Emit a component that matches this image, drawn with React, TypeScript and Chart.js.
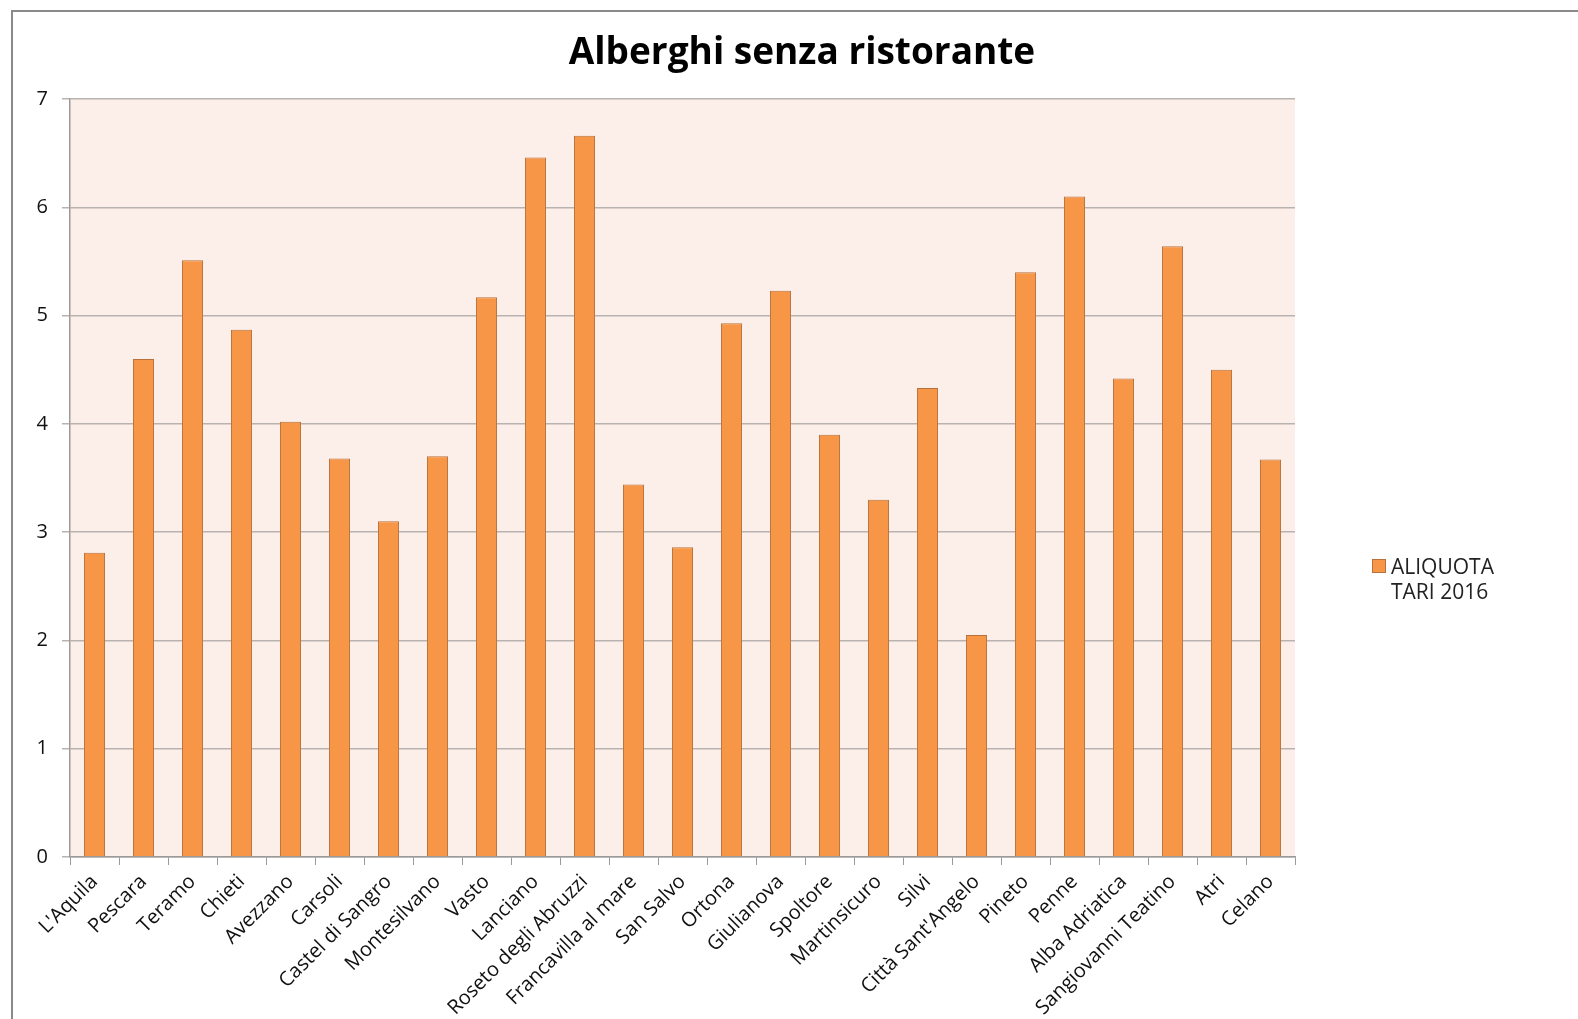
import React, { useEffect, useRef } from "react";
import { Chart, registerables } from "chart.js";

Chart.register(...registerables);

const TITLE = "Alberghi senza ristorante";
const SERIES_NAME = ["ALIQUOTA", "TARI 2016"];
const CATEGORIES = [
  "L'Aquila",
  "Pescara",
  "Teramo",
  "Chieti",
  "Avezzano",
  "Carsoli",
  "Castel di Sangro",
  "Montesilvano",
  "Vasto",
  "Lanciano",
  "Roseto degli Abruzzi",
  "Francavilla al mare",
  "San Salvo",
  "Ortona",
  "Giulianova",
  "Spoltore",
  "Martinsicuro",
  "Silvi",
  "Città Sant'Angelo",
  "Pineto",
  "Penne",
  "Alba Adriatica",
  "Sangiovanni Teatino",
  "Atri",
  "Celano",
];
const VALUES = [
  2.81, 4.6, 5.51, 4.87, 4.02, 3.68, 3.1, 3.7, 5.17, 6.46, 6.66, 3.44, 2.86,
  4.93, 5.23, 3.9, 3.3, 4.33, 2.05, 5.4, 6.1, 4.42, 5.64, 4.5, 3.67,
];
const Y_MIN = 0;
const Y_MAX = 7;
const Y_STEP = 1;

const FONT = '"Open Sans", "DejaVu Sans", sans-serif';
const BAR_FILL = "#F79646";
const BAR_BORDER = "#B8713A";
const PLOT_BG = "#FCEEE9";
const TEXT = "#111111";

const decor = {
  id: "decor",
  beforeDraw(chart: any) {
    const { ctx, chartArea } = chart;
    ctx.save();
    ctx.fillStyle = "#ffffff";
    ctx.fillRect(0, 0, chart.width, chart.height);
    ctx.fillStyle = PLOT_BG;
    ctx.fillRect(
      chartArea.left,
      chartArea.top,
      chartArea.right - chartArea.left,
      chartArea.bottom - chartArea.top
    );
    // outer frame (left + top)
    ctx.strokeStyle = "#8a8a8a";
    ctx.lineWidth = 2;
    ctx.beginPath();
    ctx.moveTo(12, chart.height);
    ctx.lineTo(12, 11);
    ctx.lineTo(chart.width, 11);
    ctx.stroke();
    ctx.restore();
  },
  afterDraw(chart: any) {
    const { ctx } = chart;
    ctx.save();
    ctx.fillStyle = "#000000";
    ctx.font = `bold 37px ${FONT}`;
    ctx.textAlign = "center";
    ctx.textBaseline = "alphabetic";
    ctx.fillText(TITLE, 802, 64);

    // legend
    ctx.fillStyle = BAR_FILL;
    ctx.fillRect(1372, 559, 14, 14);
    ctx.strokeStyle = BAR_BORDER;
    ctx.lineWidth = 1;
    ctx.strokeRect(1372.5, 559.5, 13, 13);
    ctx.fillStyle = "#222222";
    ctx.font = `21px ${FONT}`;
    ctx.textAlign = "left";
    ctx.fillText(SERIES_NAME[0], 1391, 574);
    ctx.fillText(SERIES_NAME[1], 1391, 599);
    ctx.restore();
  },
};

export default function App() {
  const ref = useRef<HTMLCanvasElement | null>(null);

  useEffect(() => {
    document.body.style.margin = "0";
    const canvas = ref.current;
    if (!canvas) return;
    const chart = new Chart(canvas, {
      type: "bar",
      data: {
        labels: CATEGORIES,
        datasets: [
          {
            label: SERIES_NAME.join(" "),
            data: VALUES,
            backgroundColor: BAR_FILL,
            borderColor: BAR_BORDER,
            borderWidth: 1,
            barPercentage: 0.43,
            categoryPercentage: 1,
          },
        ],
      },
      options: {
        responsive: false,
        animation: false,
        devicePixelRatio: 1,
        layout: { padding: { left: 0, top: 99, right: 283, bottom: 0 } },
        plugins: {
          legend: { display: false },
          title: { display: false },
          tooltip: { enabled: false },
        },
        scales: {
          x: {
            afterFit(scale: any) {
              scale.height = 162;
            },
            grid: {
              offset: true,
              drawOnChartArea: false,
              drawTicks: true,
              tickLength: 8,
              color: "#9a9a9a",
              lineWidth: 1,
            },
            border: { display: true, color: "#9a9a9a", width: 1.5 },
            ticks: {
              autoSkip: false,
              minRotation: 45,
              maxRotation: 45,
              padding: 5,
              color: TEXT,
              font: { family: FONT, size: 20 },
            },
          },
          y: {
            min: Y_MIN,
            max: Y_MAX,
            afterFit(scale: any) {
              scale.width = 70;
            },
            grid: {
              color: "#B8B2B0",
              lineWidth: 1.5,
              tickLength: 8,
              drawTicks: true,
            },
            border: { display: true, color: "#9a9a9a", width: 1.5 },
            ticks: {
              stepSize: Y_STEP,
              padding: 14,
              color: TEXT,
              font: { family: FONT, size: 20 },
            },
          },
        },
      },
      plugins: [decor],
    });
    return () => chart.destroy();
  }, []);

  return (
    <canvas
      ref={ref}
      width={1578}
      height={1019}
      style={{ display: "block", width: 1578, height: 1019 }}
    />
  );
}
